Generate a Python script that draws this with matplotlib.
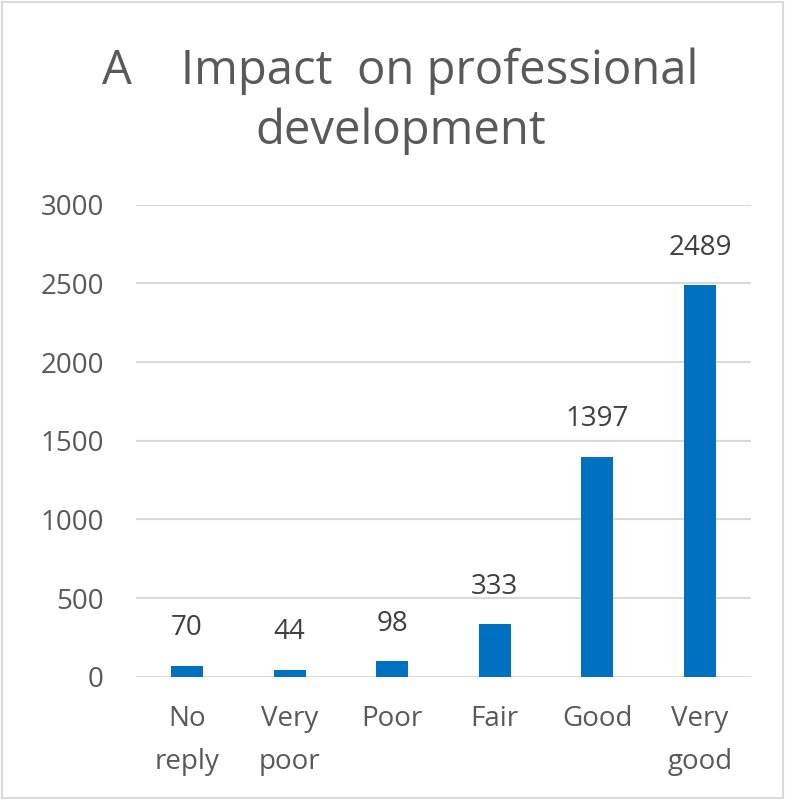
import matplotlib.pyplot as plt
import numpy as np

categories = ['No\nreply', 'Very\npoor', 'Poor', 'Fair', 'Good', 'Very\ngood']
counts = [70, 44, 98, 333, 1397, 2489]
yticks = [0, 500, 1000, 1500, 2000, 2500, 3000]

plt.rcParams['font.family'] = ['Open Sans', 'DejaVu Sans']

fig = plt.figure(figsize=(7.85, 8.0), dpi=100)
ax = fig.add_axes([0.173, 0.154, 0.784, 0.59])

x = np.arange(len(categories))
bars = ax.bar(x, counts, width=0.31, color='#0070c0', zorder=3)

for xi, v in zip(x, counts):
    ax.text(xi, v + 150, str(v), ha='center', va='bottom', fontsize=20, color='#404040')

ax.set_xlim(-0.5, len(categories) - 0.5)
ax.set_ylim(0, 3000)
ax.set_yticks(yticks)
ax.set_yticklabels([str(t) for t in yticks], fontsize=20, color='#595959')
ax.set_xticks(x)
ax.set_xticklabels(categories, fontsize=20, color='#595959', linespacing=1.75)
ax.tick_params(axis='y', length=0, pad=23)
ax.tick_params(axis='x', length=0, pad=20)
ax.grid(axis='y', color='#d9d9d9', linewidth=1.5, zorder=0)
for s in ax.spines.values():
    s.set_visible(False)

fig.text(0.51, 0.873, 'A    Impact  on professional\ndevelopment', ha='center', va='center',
         fontsize=34, color='#595959', linespacing=1.35)

# light frame around the chart
fig.patches.append(plt.Rectangle((0.002, 0.002), 0.996, 0.996, transform=fig.transFigure,
                                 fill=False, edgecolor='#d9d9d9', linewidth=1.5))

fig.savefig('out.png', dpi=100)
